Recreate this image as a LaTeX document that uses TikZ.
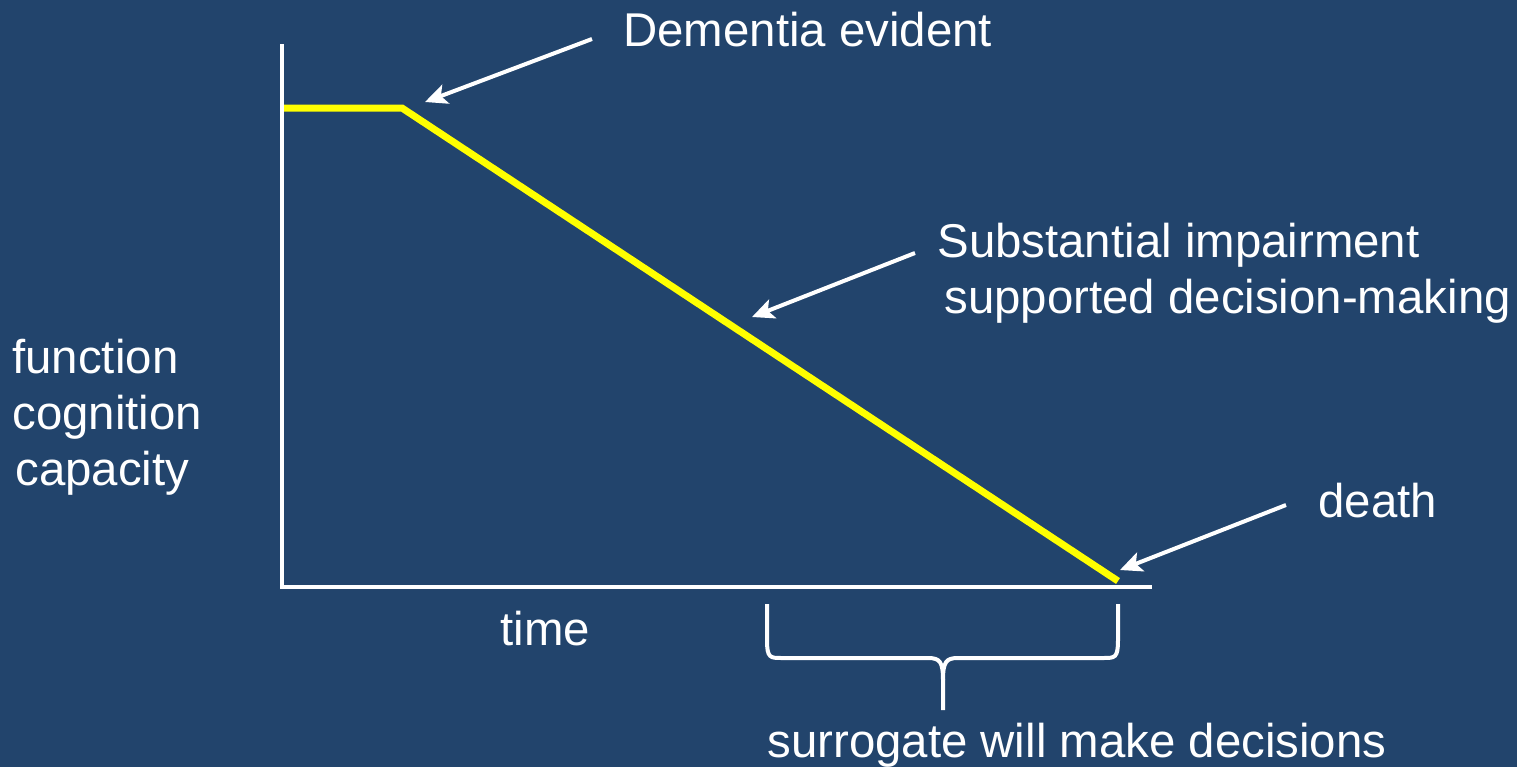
\documentclass[tikz,border=0pt]{standalone}
\usepackage{fontspec}
\setmainfont{Liberation Sans}
\usetikzlibrary{arrows.meta}
\definecolor{bg}{RGB}{34,68,108}
\definecolor{curve}{RGB}{255,255,0}
\begin{document}
\begin{tikzpicture}[x=0.5pt,y=-0.5pt,
  lbl/.style={text=white,font=\fontsize{23.7}{28}\selectfont,inner sep=0pt,anchor=base west},
  axisline/.style={draw=white,line width=2pt},
  pointer/.style={draw=white,line width=2pt,-{Stealth[length=11pt,width=10pt,inset=2.5pt]}},
  decline/.style={draw=curve,line width=3.5pt}]
\fill[bg] (0,0) rectangle (1517,767);
\useasboundingbox (0,0) rectangle (1517,767);
% axes
\coordinate (ytop) at (282,44);
\coordinate (origin) at (282,587);
\coordinate (xend) at (1152,587);
\draw[axisline] (ytop) -- (origin) -- (xend);
% decline curve
\coordinate (c0) at (284,108);
\coordinate (c1) at (402,108);
\coordinate (c2) at (1118,581);
\draw[decline] (c0) -- (c1) -- (c2);
% labels
\node[lbl] (dem) at (623,46) {Dementia evident};
\node[lbl,align=left] (sub) at (937,313) {Substantial impairment\\\hspace{3.5pt}supported decision-making};
\node[lbl,align=left] (yl) at (12,485) {function\\cognition\\\hspace{1.5pt}capacity};
\node[lbl] (death) at (1318,517) {death};
\node[lbl] (time) at (500,645) {time};
\node[lbl] (sur) at (767,757) {surrogate will make decisions};
% pointers
\coordinate (a1s) at (592,39); \coordinate (a1e) at (425,102);
\coordinate (a2s) at (915,253); \coordinate (a2e) at (752,317);
\coordinate (a3s) at (1286,505); \coordinate (a3e) at (1120,570);
\draw[pointer] (a1s) -- (a1e);
\draw[pointer] (a2s) -- (a2e);
\draw[pointer] (a3s) -- (a3e);
% brace
\coordinate (bl) at (767,604);
\coordinate (br) at (1118,604);
\coordinate (bm) at (943,710);
\draw[draw=white,line width=2pt]
  (bl) -- (767,640) .. controls (767,658) and (770,658) .. (782,658) -- (928,658)
  .. controls (940,658) and (943,662) .. (943,680) -- (bm);
\draw[draw=white,line width=2pt]
  (br) -- (1118,640) .. controls (1118,658) and (1115,658) .. (1103,658) -- (958,658)
  .. controls (946,658) and (943,662) .. (943,680);
\end{tikzpicture}
\end{document}
